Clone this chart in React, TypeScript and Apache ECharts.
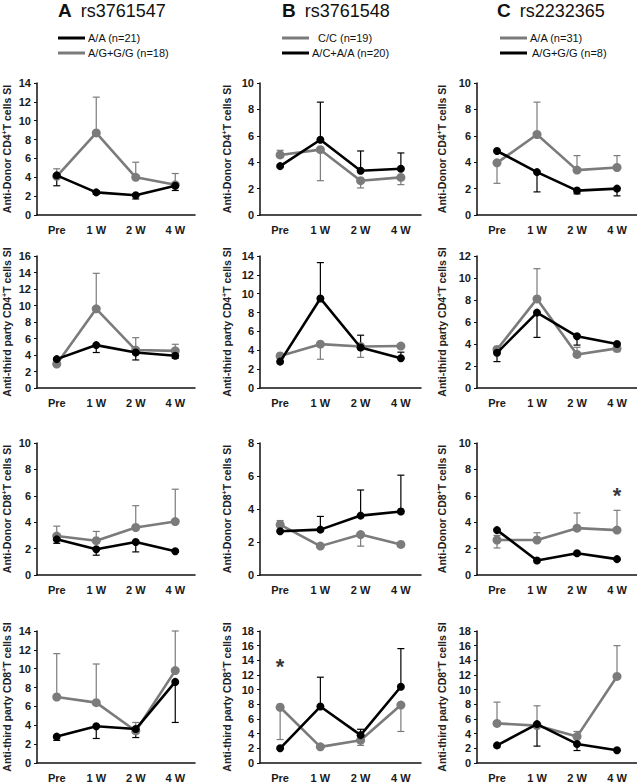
import React, { useEffect, useRef } from "react";
import * as echarts from "echarts";

const categories = ["Pre", "1 W", "2 W", "4 W"];
const letters = ["A", "B", "C"];
const snps = ["rs3761547", "rs3761548", "rs2232365"];
const legendA = ["A/A (n=21)", "A/G+G/G (n=18)"];
const legendB = ["C/C (n=19)", "A/C+A/A (n=20)"];
const legendC = ["A/A (n=31)", "A/G+G/G (n=8)"];
const yNames = [
  "Anti-Donor CD4{sup|+}T cells SI",
  "Anti-third party CD4{sup|+}T cells SI",
  "Anti-Donor CD8{sup|+}T cells SI",
  "Anti-third party CD8{sup|+}T cells SI",
];
const yMaxA = [14, 16, 10, 14];
const yMaxB = [10, 14, 8, 18];
const yMaxC = [10, 12, 10, 18];

// Column A (rs3761547): black = A/A, gray = A/G+G/G
const A1_black = [4.2, 2.4, 2.1, 3.1];
const A1_black_up = [0, 0.15, 0, 0];
const A1_black_dn = [1.1, 0.2, 0.4, 0.5];
const A1_gray = [4.1, 8.7, 4.0, 3.2];
const A1_gray_up = [0.8, 3.8, 1.6, 1.2];
const A1_gray_dn = [0, 0, 0, 0];

const A2_black = [3.5, 5.2, 4.3, 3.9];
const A2_black_up = [0, 0, 0, 0];
const A2_black_dn = [0, 0.9, 0.9, 0.3];
const A2_gray = [2.9, 9.6, 4.6, 4.5];
const A2_gray_up = [0, 4.3, 1.5, 0.8];
const A2_gray_dn = [0, 0, 0, 0];

const A3_black = [2.7, 1.95, 2.5, 1.8];
const A3_black_up = [0, 0, 0, 0];
const A3_black_dn = [0.3, 0.45, 0.75, 0];
const A3_gray = [2.95, 2.6, 3.6, 4.05];
const A3_gray_up = [0.75, 0.7, 1.65, 2.45];
const A3_gray_dn = [0, 0, 0, 0];

const A4_black = [2.8, 3.9, 3.6, 8.6];
const A4_black_up = [0, 0, 0, 0];
const A4_black_dn = [0.4, 1.3, 0.9, 4.3];
const A4_gray = [7.0, 6.4, 3.4, 9.8];
const A4_gray_up = [4.6, 4.1, 0.9, 4.2];
const A4_gray_dn = [0, 0, 0, 0];

// Column B (rs3761548): gray = C/C, black = A/C+A/A
const B1_gray = [4.55, 4.95, 2.6, 2.85];
const B1_gray_up = [0.35, 0, 0, 0];
const B1_gray_dn = [0, 2.35, 0.55, 0.55];
const B1_black = [3.7, 5.7, 3.35, 3.5];
const B1_black_up = [0, 2.85, 1.5, 1.2];
const B1_black_dn = [0, 0, 0, 0];

const B2_gray = [3.4, 4.65, 4.4, 4.45];
const B2_gray_up = [0, 0, 0, 0];
const B2_gray_dn = [0, 1.6, 1.15, 0];
const B2_black = [2.8, 9.5, 4.3, 3.15];
const B2_black_up = [0, 3.8, 1.3, 0.65];
const B2_black_dn = [0, 0, 0, 0];

const B3_gray = [3.05, 1.75, 2.45, 1.85];
const B3_gray_up = [0.25, 0, 0, 0];
const B3_gray_dn = [0, 0, 0.7, 0];
const B3_black = [2.65, 2.75, 3.6, 3.85];
const B3_black_up = [0, 0.8, 1.55, 2.2];
const B3_black_dn = [0, 0, 0, 0];

const B4_gray = [7.6, 2.2, 3.1, 7.9];
const B4_gray_up = [0, 0, 0, 0];
const B4_gray_dn = [4.4, 0, 0.7, 3.6];
const B4_black = [2.0, 7.7, 3.8, 10.4];
const B4_black_up = [0, 4.0, 0.8, 5.2];
const B4_black_dn = [0, 0, 0, 0];

// Column C (rs2232365): gray = A/A, black = A/G+G/G
const C1_gray = [3.95, 6.1, 3.4, 3.6];
const C1_gray_up = [0, 2.45, 1.1, 0.9];
const C1_gray_dn = [1.55, 0, 0, 0];
const C1_black = [4.85, 3.25, 1.85, 2.0];
const C1_black_up = [0, 0, 0, 0];
const C1_black_dn = [0, 1.5, 0.25, 0.55];

const C2_gray = [3.5, 8.1, 3.05, 3.6];
const C2_gray_up = [0.2, 2.75, 0.65, 0];
const C2_gray_dn = [0, 0, 0, 0.3];
const C2_black = [3.2, 6.85, 4.7, 4.0];
const C2_black_up = [0, 0, 0, 0];
const C2_black_dn = [0.8, 2.25, 0.8, 0];

const C3_gray = [2.65, 2.65, 3.55, 3.4];
const C3_gray_up = [0.35, 0.55, 1.15, 1.5];
const C3_gray_dn = [0.6, 0, 0, 0];
const C3_black = [3.4, 1.1, 1.65, 1.2];
const C3_black_up = [0, 0, 0, 0];
const C3_black_dn = [0, 0, 0.15, 0];

const C4_gray = [5.4, 5.1, 3.6, 11.8];
const C4_gray_up = [2.9, 2.7, 0.7, 4.2];
const C4_gray_dn = [0, 0, 0, 0];
const C4_black = [2.4, 5.3, 2.6, 1.75];
const C4_black_up = [0, 0, 0, 0];
const C4_black_dn = [0, 3.0, 0.9, 0];

// significance marks: [column, row, category index, y]
const asterisks = [
  [1, 3, 0, 13.1],
  [2, 2, 3, 6.0],
];

const BLACK = "#000000";
const GRAY = "#7b7b7b";
const FONT = "'Liberation Sans', Arial, sans-serif";

export default function App() {
  const ref = useRef<HTMLDivElement>(null);
  useEffect(() => {
    if (!ref.current) return;
    const chart = echarts.init(ref.current, null, { renderer: "svg" });

    const mk = (v: number[], up: number[], dn: number[]) => ({ v, up, dn });
    const panels = [
      [
        { black: mk(A1_black, A1_black_up, A1_black_dn), gray: mk(A1_gray, A1_gray_up, A1_gray_dn) },
        { black: mk(A2_black, A2_black_up, A2_black_dn), gray: mk(A2_gray, A2_gray_up, A2_gray_dn) },
        { black: mk(A3_black, A3_black_up, A3_black_dn), gray: mk(A3_gray, A3_gray_up, A3_gray_dn) },
        { black: mk(A4_black, A4_black_up, A4_black_dn), gray: mk(A4_gray, A4_gray_up, A4_gray_dn) },
      ],
      [
        { black: mk(B1_black, B1_black_up, B1_black_dn), gray: mk(B1_gray, B1_gray_up, B1_gray_dn) },
        { black: mk(B2_black, B2_black_up, B2_black_dn), gray: mk(B2_gray, B2_gray_up, B2_gray_dn) },
        { black: mk(B3_black, B3_black_up, B3_black_dn), gray: mk(B3_gray, B3_gray_up, B3_gray_dn) },
        { black: mk(B4_black, B4_black_up, B4_black_dn), gray: mk(B4_gray, B4_gray_up, B4_gray_dn) },
      ],
      [
        { black: mk(C1_black, C1_black_up, C1_black_dn), gray: mk(C1_gray, C1_gray_up, C1_gray_dn) },
        { black: mk(C2_black, C2_black_up, C2_black_dn), gray: mk(C2_gray, C2_gray_up, C2_gray_dn) },
        { black: mk(C3_black, C3_black_up, C3_black_dn), gray: mk(C3_gray, C3_gray_up, C3_gray_dn) },
        { black: mk(C4_black, C4_black_up, C4_black_dn), gray: mk(C4_gray, C4_gray_up, C4_gray_dn) },
      ],
    ];
    const maxes = [yMaxA, yMaxB, yMaxC];

    const colLeft = [37, 260, 477];
    const colWidth = [158, 161, 160];
    const nameGaps = [24, 27, 29];
    const rowTop = [83, 256, 443, 631];
    const rowH = 132;

    const grid: any[] = [];
    const xAxis: any[] = [];
    const yAxis: any[] = [];
    const series: any[] = [];

    const errSeries = (idx: number, s: { v: number[]; up: number[]; dn: number[] }, color: string) => ({
      type: "custom",
      xAxisIndex: idx,
      yAxisIndex: idx,
      z: 2,
      silent: true,
      data: s.v.map((v, i) => [i, v - s.dn[i], v + s.up[i], s.dn[i] > 0 ? 1 : 0, s.up[i] > 0 ? 1 : 0]),
      encode: { x: 0, y: [1, 2] },
      renderItem: (params: any, api: any) => {
        const lo = api.coord([api.value(0), api.value(1)]);
        const hi = api.coord([api.value(0), api.value(2)]);
        const st = { stroke: color, lineWidth: 1.2 };
        const ch: any[] = [
          { type: "line", shape: { x1: lo[0], y1: lo[1], x2: hi[0], y2: hi[1] }, style: st },
        ];
        if (api.value(3)) ch.push({ type: "line", shape: { x1: lo[0] - 3.5, y1: lo[1], x2: lo[0] + 3.5, y2: lo[1] }, style: st });
        if (api.value(4)) ch.push({ type: "line", shape: { x1: hi[0] - 3.5, y1: hi[1], x2: hi[0] + 3.5, y2: hi[1] }, style: st });
        return { type: "group", children: ch };
      },
    });

    const lineSeries = (idx: number, data: number[], color: string, size: number, z: number) => ({
      type: "line",
      xAxisIndex: idx,
      yAxisIndex: idx,
      data,
      symbol: "circle",
      symbolSize: size,
      z,
      lineStyle: { color, width: 2.6 },
      itemStyle: { color },
      silent: true,
    });

    for (let c = 0; c < 3; c++) {
      for (let r = 0; r < 4; r++) {
        const idx = c * 4 + r;
        grid.push({ left: colLeft[c], top: rowTop[r], width: colWidth[c], height: rowH });
        xAxis.push({
          type: "category",
          gridIndex: idx,
          data: categories,
          boundaryGap: true,
          axisLine: { lineStyle: { color: "#111", width: 1.5 } },
          axisTick: { show: false },
          axisLabel: { fontFamily: FONT, fontSize: 11, fontWeight: "bold", color: "#1a1a1a", margin: 9 },
        });
        yAxis.push({
          type: "value",
          gridIndex: idx,
          min: 0,
          max: maxes[c][r],
          interval: 2,
          splitLine: { show: false },
          axisLine: { show: true, lineStyle: { color: "#111", width: 1.5 } },
          axisTick: { show: true, length: 3, lineStyle: { color: "#111" } },
          axisLabel: { fontFamily: FONT, fontSize: 11, fontWeight: "bold", color: "#1a1a1a", margin: 6 },
          name: yNames[r],
          nameLocation: "middle",
          nameRotate: 90,
          nameGap: nameGaps[c],
          nameTextStyle: {
            fontFamily: FONT,
            fontSize: 10.5,
            fontWeight: "bold",
            color: "#222",
            rich: { sup: { fontFamily: FONT, fontSize: 7, fontWeight: "bold", color: "#222", verticalAlign: "top", padding: [0, 0, 5, 0] } },
          },
        });
        const p = panels[c][r];
        series.push(errSeries(idx, p.gray, GRAY));
        series.push(errSeries(idx, p.black, BLACK));
        series.push(lineSeries(idx, p.gray.v, GRAY, 9, 3));
        series.push(lineSeries(idx, p.black.v, BLACK, 8, 4));
      }
    }

    asterisks.forEach(([c, r, i, y]) => {
      const idx = c * 4 + r;
      series.push({
        type: "scatter",
        xAxisIndex: idx,
        yAxisIndex: idx,
        data: [[i, y]],
        symbolSize: 1,
        itemStyle: { color: "rgba(0,0,0,0)" },
        label: { show: true, formatter: "*", position: "inside", fontFamily: FONT, fontSize: 22, fontWeight: "bold", color: "#000" },
        silent: true,
      });
    });

    const titleX = [58, 282, 497];
    const legendLineX = [58, 282, 500];
    const legendTextX = [
      [88, 88],
      [318, 312],
      [530, 532],
    ];
    const legendTexts = [legendA, legendB, legendC];
    const legendColors = [
      [BLACK, GRAY],
      [GRAY, BLACK],
      [GRAY, BLACK],
    ];
    const graphic: any[] = [];
    for (let c = 0; c < 3; c++) {
      graphic.push({
        type: "text",
        left: titleX[c],
        top: 1,
        style: {
          text: `{l|${letters[c]}}{s|${snps[c]}}`,
          rich: {
            l: { fontFamily: FONT, fontSize: 19, fontWeight: "bold", fill: "#111", padding: [0, 9, 0, 0] },
            s: { fontFamily: FONT, fontSize: 18, fill: "#111" },
          },
        },
      });
      for (let k = 0; k < 2; k++) {
        const y = 38 + k * 15;
        graphic.push({
          type: "line",
          shape: { x1: legendLineX[c], y1: y, x2: legendLineX[c] + 27, y2: y },
          style: { stroke: legendColors[c][k], lineWidth: 3 },
        });
        graphic.push({
          type: "text",
          x: legendTextX[c][k],
          y,
          style: { text: legendTexts[c][k], fontFamily: FONT, fontSize: 11, fill: "#111", verticalAlign: "middle" },
        });
      }
    }

    chart.setOption({
      animation: false,
      backgroundColor: "#ffffff",
      grid,
      xAxis,
      yAxis,
      series,
      graphic,
    });
    return () => chart.dispose();
  }, []);
  return (
    <div style={{ position: "absolute", left: 0, top: 0 }}>
      <div ref={ref} style={{ width: 637, height: 783 }} />
    </div>
  );
}
